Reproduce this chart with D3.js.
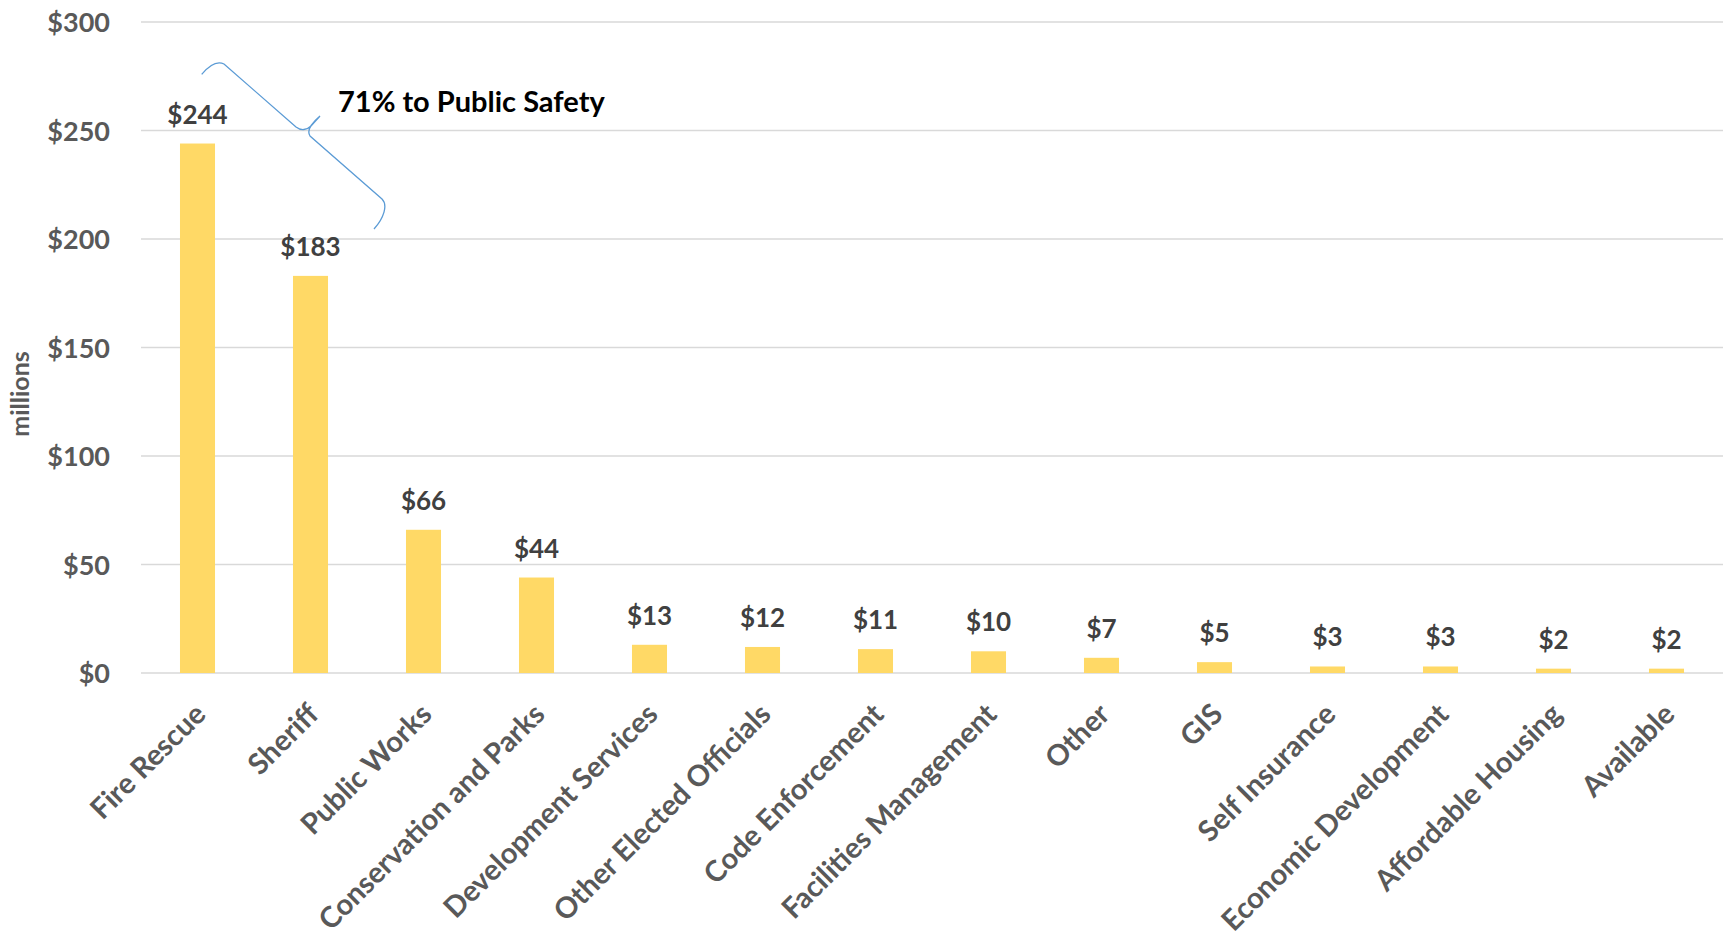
<!DOCTYPE html>
<html>
<head>
<meta charset="utf-8">
<script src="https://cdn.jsdelivr.net/npm/d3@7"></script>
<style>
  html, body { margin: 0; padding: 0; background: #ffffff; }
  svg { display: block; font-family: Lato, "Open Sans", sans-serif; }
</style>
</head>
<body>
<svg id="chart" width="1729" height="936"></svg>
<script>
// Departments and their budget (millions of dollars)
const categories = [
  "Fire Rescue", "Sheriff", "Public Works", "Conservation and Parks",
  "Development Services", "Other Elected Officials", "Code Enforcement",
  "Facilities Management", "Other", "GIS", "Self Insurance",
  "Economic Development", "Affordable Housing", "Available"
];
const values = [244, 183, 66, 44, 13, 12, 11, 10, 7, 5, 3, 3, 2, 2];
const yTicks = [0, 50, 100, 150, 200, 250, 300];
const axisTitle = "millions";
const calloutText = "71% to Public Safety";

const svg = d3.select("#chart");
const W = 1729, H = 936;
const margin = { top: 22, right: 6, bottom: 263, left: 141 };
const plotW = W - margin.left - margin.right;
const plotH = H - margin.top - margin.bottom;

const x = d3.scaleBand().domain(categories).range([0, plotW]).paddingInner(0.69).paddingOuter(0.345);
const y = d3.scaleLinear().domain([0, 300]).range([plotH, 0]);

const g = svg.append("g").attr("transform", `translate(${margin.left},${margin.top})`);

// horizontal gridlines
g.append("g")
  .selectAll("line")
  .data(yTicks)
  .join("line")
  .attr("x1", 0).attr("x2", plotW)
  .attr("y1", d => y(d)).attr("y2", d => y(d))
  .attr("stroke", "#d9d9d9")
  .attr("stroke-width", 1.6);

// y axis labels
const yAxis = g.append("g")
  .call(d3.axisLeft(y).tickValues(yTicks).tickFormat(d => "$" + d).tickSize(0).tickPadding(31));
yAxis.select(".domain").remove();
yAxis.selectAll("text")
  .attr("fill", "#595959")
  .attr("font-family", "Lato, sans-serif")
  .attr("font-weight", 700)
  .attr("font-size", 27)
  .attr("dy", "0.36em");

// y axis title
svg.append("text")
  .attr("transform", "translate(29,394) rotate(-90)")
  .attr("text-anchor", "middle")
  .attr("fill", "#595959")
  .attr("font-weight", 700)
  .attr("font-size", 25)
  .text(axisTitle);

// bars
g.append("g")
  .selectAll("rect")
  .data(values)
  .join("rect")
  .attr("x", (d, i) => x(categories[i]))
  .attr("width", x.bandwidth())
  .attr("y", d => y(d))
  .attr("height", d => plotH - y(d))
  .attr("fill", "#ffd966");

// value labels above the bars
g.append("g")
  .selectAll("text")
  .data(values)
  .join("text")
  .attr("x", (d, i) => x(categories[i]) + x.bandwidth() / 2)
  .attr("y", d => y(d) - 20)
  .attr("text-anchor", "middle")
  .attr("fill", "#404040")
  .attr("font-weight", 700)
  .attr("font-size", 26)
  .text(d => "$" + d);

// category labels, slanted
const xAxis = g.append("g")
  .attr("transform", `translate(0,${plotH})`)
  .call(d3.axisBottom(x).tickSize(0).tickPadding(0));
xAxis.select(".domain").remove();
xAxis.selectAll("text")
  .attr("fill", "#595959")
  .attr("font-family", "Lato, sans-serif")
  .attr("font-weight", 700)
  .attr("font-size", 29)
  .attr("text-anchor", "end")
  .attr("dy", null)
  .attr("y", 0)
  .attr("transform", "translate(10,43) rotate(-45)");

// curly brace grouping the public safety bars
svg.append("path")
  .attr("d", "M201.7,74.3 C207,68 216,60 224,64 L296,127 C301,131 307,130 311,126 L320,116 " +
             "M320,116 C313,122 306,130 310,136 L382,199 C388,205 384,218 374,229")
  .attr("fill", "none")
  .attr("stroke", "#5b9bd5")
  .attr("stroke-width", 1.3);

svg.append("text")
  .attr("x", 338)
  .attr("y", 112)
  .attr("fill", "#000000")
  .attr("font-weight", 700)
  .attr("font-size", 29)
  .text(calloutText);
</script>
</body>
</html>
